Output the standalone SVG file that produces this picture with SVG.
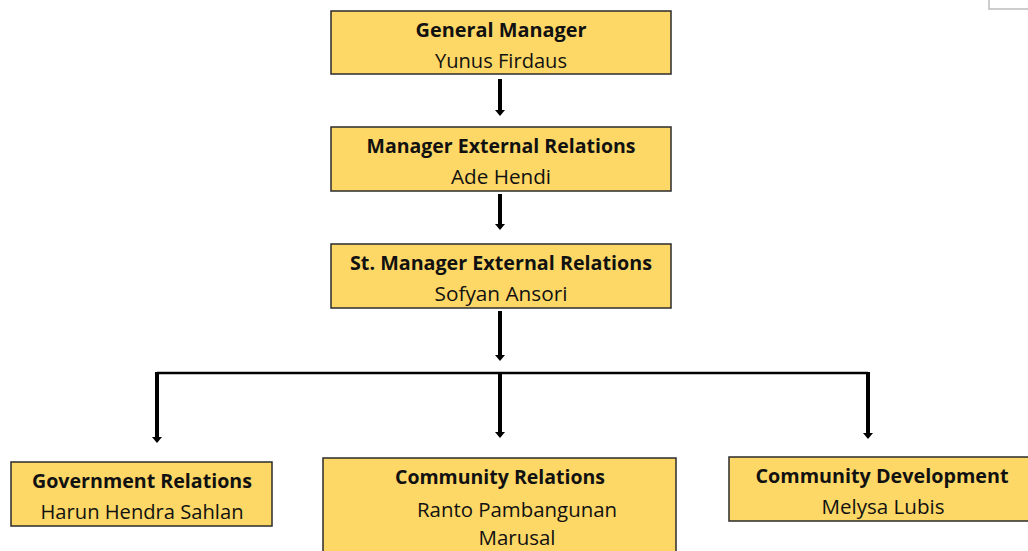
<svg xmlns="http://www.w3.org/2000/svg" width="1028" height="551" viewBox="0 0 1028 551">
<style>
.box{fill:#FDD866;stroke:#2b2b2b;stroke-width:1.5}
.t{font-family:"Open Sans","Liberation Sans",sans-serif;font-size:20px;fill:#111;text-anchor:middle}
.b{font-weight:bold}
.v{stroke:#000;stroke-width:4;fill:none}
.h{stroke:#000;stroke-width:2.5;fill:none}
.head{fill:#000}
</style>
<rect width="1028" height="551" fill="#fff"/>
<path d="M989 0 V9 H1028" fill="none" stroke="#bdbdbd" stroke-width="1.5"/>

<g id="connectors">
<path class="v" d="M500 79 V110"/><path class="head" d="M495 110 H505 L500 116 Z"/>
<path class="v" d="M500 194 V224"/><path class="head" d="M495 224 H505 L500 230 Z"/>
<path class="v" d="M500 311 V355"/><path class="head" d="M495 355 H505 L500 361 Z"/>
<path class="h" d="M157 373 H868"/>
<path class="v" d="M157 372 V437"/><path class="head" d="M152 437 H162 L157 443 Z"/>
<path class="v" d="M500 373 V432"/><path class="head" d="M495 432 H505 L500 438 Z"/>
<path class="v" d="M868 372 V433"/><path class="head" d="M863 433 H873 L868 439 Z"/>
</g>

<g id="general-manager">
<rect class="box" x="331" y="11" width="340" height="63"/>
<text class="t b" x="501" y="37" textLength="171" lengthAdjust="spacingAndGlyphs">General Manager</text>
<text class="t" x="501" y="68" textLength="132" lengthAdjust="spacingAndGlyphs">Yunus Firdaus</text>
</g>
<g id="manager-external-relations">
<rect class="box" x="331" y="127" width="340" height="64"/>
<text class="t b" x="501" y="153" textLength="269" lengthAdjust="spacingAndGlyphs">Manager External Relations</text>
<text class="t" x="501" y="184" textLength="100" lengthAdjust="spacingAndGlyphs">Ade Hendi</text>
</g>
<g id="st-manager-external-relations">
<rect class="box" x="331" y="244" width="340" height="64"/>
<text class="t b" x="501" y="270" textLength="302" lengthAdjust="spacingAndGlyphs">St. Manager External Relations</text>
<text class="t" x="501" y="301" textLength="133" lengthAdjust="spacingAndGlyphs">Sofyan Ansori</text>
</g>
<g id="government-relations">
<rect class="box" x="11" y="462" width="261" height="64"/>
<text class="t b" x="142" y="488" textLength="220" lengthAdjust="spacingAndGlyphs">Government Relations</text>
<text class="t" x="142" y="519" textLength="203" lengthAdjust="spacingAndGlyphs">Harun Hendra Sahlan</text>
</g>
<g id="community-relations">
<rect class="box" x="323" y="458" width="353" height="100"/>
<text class="t b" x="500" y="484" textLength="210" lengthAdjust="spacingAndGlyphs">Community Relations</text>
<text class="t" x="517" y="517" textLength="200" lengthAdjust="spacingAndGlyphs">Ranto Pambangunan</text>
<text class="t" x="517" y="545" textLength="77" lengthAdjust="spacingAndGlyphs">Marusal</text>
</g>
<g id="community-development">
<rect class="box" x="729" y="457" width="305" height="64"/>
<text class="t b" x="882" y="483" textLength="253" lengthAdjust="spacingAndGlyphs">Community Development</text>
<text class="t" x="883" y="514" textLength="123" lengthAdjust="spacingAndGlyphs">Melysa Lubis</text>
</g>
</svg>
